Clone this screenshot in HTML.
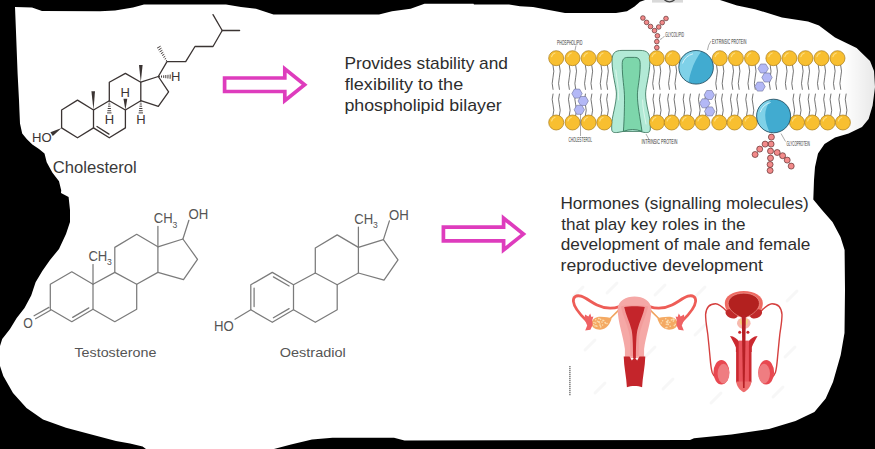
<!DOCTYPE html>
<html><head><meta charset="utf-8">
<style>
html,body{margin:0;padding:0;background:#000;}
body{width:875px;height:449px;overflow:hidden;position:relative;font-family:"Liberation Sans",sans-serif;}
svg{position:absolute;left:0;top:0;display:block;}
text{font-family:"Liberation Sans",sans-serif;}
</style></head><body>
<svg width="875" height="449" viewBox="0 0 875 449">
<rect width="875" height="449" fill="#000"/>
<defs><clipPath id="bc"><path d="M15,7 L32,7.4 L42,11 L100,11.3 L115,10.5 L133,7.5 L144,4.5 L226,4.5 L241,7 L256,8.8 L273.5,14.6 L379,14.6 L392,11.3 L410.6,8.8 L424.5,3.8 L473.5,3.8 L474,4.5 L509,4.5 L520,6.3 L533,7 L565,13 L616,13 L627,11.3 L634.6,6.4 L640,1.8 L645,0 L720,0 L737,5.5 L755,9.2 L782,17.4 L808,21.4 L819,25.4 L835,37.4 L856.6,48 L870,61 L874,71 L875,87 L872.6,105.5 L868.6,119 L862,127 L848.6,133.5 L835,137.5 L824.5,144 L818,153.6 L815,167 L814,180 L813.3,199.4 L822,210 L832.5,222 L840.5,237 L844.6,250 L845,290 L844.5,333 L840.7,355 L833,382 L825.7,398.6 L814.4,412 L795.5,421 L769,429 L731.5,434.4 L694,438.2 L690,440 L404.5,440.4 L394,437.7 L332.5,437.7 L312,439.4 L291,444.5 L274,449 L146,449 L142.6,446.5 L130,443.5 L116,441 L89.5,434 L66,427.7 L43,419.4 L26.5,408 L13,393 L3.3,376 L0,366 L0,346 L2.2,339 L10,329 L16.7,318 L24.5,308 L31.2,295.6 L35.6,282.3 L42.3,271 L50,260 L59,249 L66,234 L70,222 L70,210 L68.6,197 L61,193 L61.2,190.2 L59,181.3 L52.3,172.4 L46.7,162.3 L44.5,153.4 L39,149 L32.3,144.5 L26.7,139 L22.2,133.4 L20,123.4 L19.4,110 L19,100 L17.6,73.5 L16,32 Z"/></clipPath><linearGradient id="sh" x1="0" x2="1" y1="0" y2="0"><stop offset="0" stop-color="#000" stop-opacity="0"/><stop offset="1" stop-color="#000" stop-opacity="0.09"/></linearGradient></defs>
<path fill="#fff" d="M15,7 L32,7.4 L42,11 L100,11.3 L115,10.5 L133,7.5 L144,4.5 L226,4.5 L241,7 L256,8.8 L273.5,14.6 L379,14.6 L392,11.3 L410.6,8.8 L424.5,3.8 L473.5,3.8 L474,4.5 L509,4.5 L520,6.3 L533,7 L565,13 L616,13 L627,11.3 L634.6,6.4 L640,1.8 L645,0 L720,0 L737,5.5 L755,9.2 L782,17.4 L808,21.4 L819,25.4 L835,37.4 L856.6,48 L870,61 L874,71 L875,87 L872.6,105.5 L868.6,119 L862,127 L848.6,133.5 L835,137.5 L824.5,144 L818,153.6 L815,167 L814,180 L813.3,199.4 L822,210 L832.5,222 L840.5,237 L844.6,250 L845,290 L844.5,333 L840.7,355 L833,382 L825.7,398.6 L814.4,412 L795.5,421 L769,429 L731.5,434.4 L694,438.2 L690,440 L404.5,440.4 L394,437.7 L332.5,437.7 L312,439.4 L291,444.5 L274,449 L146,449 L142.6,446.5 L130,443.5 L116,441 L89.5,434 L66,427.7 L43,419.4 L26.5,408 L13,393 L3.3,376 L0,366 L0,346 L2.2,339 L10,329 L16.7,318 L24.5,308 L31.2,295.6 L35.6,282.3 L42.3,271 L50,260 L59,249 L66,234 L70,222 L70,210 L68.6,197 L61,193 L61.2,190.2 L59,181.3 L52.3,172.4 L46.7,162.3 L44.5,153.4 L39,149 L32.3,144.5 L26.7,139 L22.2,133.4 L20,123.4 L19.4,110 L19,100 L17.6,73.5 L16,32 Z"/>
<rect x="843" y="20" width="32" height="125" fill="url(#sh)" clip-path="url(#bc)"/>
<rect x="652" y="0" width="31" height="2.6" fill="#d9d9d9"/><path d="M664.5,0 Q669.5,3.6 674.5,0" fill="none" stroke="#444" stroke-width="1.3"/>
<!-- cholesterol -->
<g fill="none" stroke="#3b3433" stroke-width="1.3" stroke-linecap="round" stroke-linejoin="round"><path d="M77.5,100.1 L61.6,110.0 L61.6,127.9 L77.5,137.8 L93.5,127.9 L93.5,110.0 Z"/><path d="M93.5,110.0 L109.3,100.7 L125.4,110.0 L125.4,127.9 L109.3,137.8 L93.5,127.9"/><path d="M109.3,100.7 L109.3,82.2 L125.4,73.4 L140.8,82.2 L140.8,100.7 L125.4,110.0"/><path d="M140.8,82.2 L158.3,76.5 L168.6,91.9 L158.3,106.3 L140.8,100.7"/><path d="M158.3,76.5 L167.0,61.7 L185.7,61.7 L195.0,46.5 L213.0,46.5 L222.2,30.5 L213.0,14.6"/><line x1="222.2" y1="30.5" x2="239.6" y2="30.5"/><line x1="97.0" y1="126.5" x2="109.0" y2="134.1"/></g><g fill="#3b3433" stroke="none"><polygon points="93.5,110.0 95.0,91.2 91.4,91.2"/><polygon points="140.8,82.2 142.6,65.1 139.0,65.1"/><polygon points="125.4,110.0 127.3,98.8 123.5,98.8"/><polygon points="61.6,127.9 50.4,132.3 52.8,136.1"/></g><g fill="none" stroke="#3b3433" stroke-width="0.95"><line x1="108.6" y1="101.8" x2="110.0" y2="101.8"/><line x1="108.3" y1="104.0" x2="110.3" y2="104.0"/><line x1="108.0" y1="106.2" x2="110.6" y2="106.2"/><line x1="107.7" y1="108.5" x2="110.9" y2="108.5"/><line x1="107.4" y1="110.7" x2="111.2" y2="110.7"/><line x1="107.1" y1="112.9" x2="111.5" y2="112.9"/><line x1="140.1" y1="101.8" x2="141.5" y2="101.8"/><line x1="139.8" y1="104.0" x2="141.8" y2="104.0"/><line x1="139.5" y1="106.2" x2="142.1" y2="106.2"/><line x1="139.2" y1="108.5" x2="142.4" y2="108.5"/><line x1="138.9" y1="110.7" x2="142.7" y2="110.7"/><line x1="138.6" y1="112.9" x2="143.0" y2="112.9"/><line x1="159.4" y1="77.2" x2="159.4" y2="75.8"/><line x1="161.5" y1="77.6" x2="161.5" y2="75.5"/><line x1="163.7" y1="77.9" x2="163.7" y2="75.3"/><line x1="165.8" y1="78.2" x2="165.8" y2="75.0"/><line x1="167.9" y1="78.5" x2="168.0" y2="74.8"/><line x1="170.1" y1="78.8" x2="170.2" y2="74.5"/><line x1="167.0" y1="60.4" x2="165.9" y2="61.0"/><line x1="166.1" y1="58.4" x2="164.7" y2="59.2"/><line x1="165.2" y1="56.4" x2="163.4" y2="57.4"/><line x1="164.3" y1="54.3" x2="162.1" y2="55.5"/><line x1="163.3" y1="52.3" x2="160.9" y2="53.7"/><line x1="162.4" y1="50.3" x2="159.6" y2="51.8"/><line x1="161.5" y1="48.2" x2="158.4" y2="50.0"/><line x1="160.6" y1="46.2" x2="157.1" y2="48.1"/></g><g fill="#3b3433" font-size="12.6"><text x="120.4" y="96.6" textLength="9.4" lengthAdjust="spacingAndGlyphs">H</text><text x="104.8" y="124.3" textLength="9.4" lengthAdjust="spacingAndGlyphs">H</text><text x="136.2" y="124.3" textLength="9.4" lengthAdjust="spacingAndGlyphs">H</text><text x="170.9" y="81.2" textLength="9.4" lengthAdjust="spacingAndGlyphs">H</text></g><text x="32" y="142.3" font-size="13.5" fill="#3b3433" textLength="19.6" lengthAdjust="spacingAndGlyphs">HO</text>
<text x="52.8" y="173.3" font-size="15.6" fill="#3a3a3a" textLength="84" lengthAdjust="spacingAndGlyphs">Cholesterol</text>
<!-- testosterone -->
<g fill="none" stroke="#7b7b7b" stroke-width="1.25" stroke-linecap="round" stroke-linejoin="round"><path d="M71.8,271.8 L50.3,284.2 L50.3,309.2 L71.8,321.7 L93.0,309.2 L93.0,284.2 Z"/><path d="M93.0,284.2 L114.8,272.4 L136.7,284.2 L136.7,309.2 L114.8,321.7 L93.0,309.2"/><path d="M114.8,272.4 L114.8,247.4 L136.7,234.3 L157.9,246.8 L157.9,272.4 L136.7,284.2"/><path d="M157.9,246.8 L182.9,239.0 L197.5,259.3 L183.5,279.6 L157.9,272.4"/><line x1="157.9" y1="246.8" x2="157.9" y2="226.4"/><line x1="182.9" y1="239.0" x2="188.9" y2="220.3"/><line x1="93.0" y1="284.2" x2="93.0" y2="264.6"/><line x1="72.7" y1="317.4" x2="88.8" y2="307.9"/><line x1="48.9" y1="307.4" x2="34.1" y2="315.8"/><line x1="50.5" y1="310.3" x2="35.6" y2="318.8"/></g><g fill="#555" font-size="14.4"><text x="153.8" y="222.9" textLength="18.9" lengthAdjust="spacingAndGlyphs">CH</text><text x="172.4" y="227.5" font-size="8.6">3</text><text x="188.5" y="219.3" font-size="14" textLength="19.8" lengthAdjust="spacingAndGlyphs">OH</text><text x="88.4" y="260.7" textLength="18.9" lengthAdjust="spacingAndGlyphs">CH</text><text x="107.0" y="265.3" font-size="8.6">3</text><text x="23.3" y="327.8" font-size="14.4" textLength="9.6" lengthAdjust="spacingAndGlyphs">O</text></g>
<!-- oestradiol -->
<g fill="none" stroke="#7b7b7b" stroke-width="1.25" stroke-linecap="round" stroke-linejoin="round"><path d="M272.3,272.4 L250.8,284.8 L250.8,309.8 L272.3,322.3 L293.5,309.8 L293.5,284.8 Z"/><path d="M293.5,284.8 L315.3,273.0 L337.2,284.8 L337.2,309.8 L315.3,322.3 L293.5,309.8"/><path d="M315.3,273.0 L315.3,248.0 L337.2,234.9 L358.4,247.4 L358.4,273.0 L337.2,284.8"/><path d="M358.4,247.4 L383.4,239.6 L398.0,259.9 L384.0,280.2 L358.4,273.0"/><line x1="358.4" y1="247.4" x2="358.4" y2="227.0"/><line x1="383.4" y1="239.6" x2="389.4" y2="220.9"/><line x1="273.4" y1="276.9" x2="289.1" y2="286.0"/><line x1="254.1" y1="288.1" x2="254.1" y2="306.6"/><line x1="273.4" y1="317.8" x2="289.1" y2="308.6"/><line x1="250.8" y1="309.8" x2="235.0" y2="319.2"/></g><g fill="#555" font-size="14.4"><text x="354.3" y="223.5" textLength="18.9" lengthAdjust="spacingAndGlyphs">CH</text><text x="372.9" y="228.1" font-size="8.6">3</text><text x="389.0" y="219.9" font-size="14" textLength="19.8" lengthAdjust="spacingAndGlyphs">OH</text><text x="213.9" y="330.6" font-size="14" textLength="19.8" lengthAdjust="spacingAndGlyphs">HO</text></g>
<g fill="#555" font-size="12.6"><text x="74.4" y="357" textLength="82" lengthAdjust="spacingAndGlyphs">Testosterone</text><text x="279.8" y="357" textLength="66" lengthAdjust="spacingAndGlyphs">Oestradiol</text></g>
<!-- arrows -->
<path d="M224.6,78.0 L284.8,78.0 L284.8,68.8 L304.6,84.8 L284.8,100.7 L284.8,91.5 L224.6,91.5 Z" fill="#fff" stroke="#de3cbd" stroke-width="3.7" stroke-linejoin="miter" stroke-miterlimit="10"/><path d="M443.4,227.2 L503.6,227.2 L503.6,218.2 L523.4,234.1 L503.6,250.0 L503.6,240.9 L443.4,240.9 Z" fill="#fff" stroke="#de3cbd" stroke-width="3.7" stroke-linejoin="miter" stroke-miterlimit="10"/>
<!-- text -->
<g fill="#2d2d2d" font-size="16.4"><text x="344.4" y="69.3" textLength="163.6" lengthAdjust="spacingAndGlyphs">Provides stability and</text><text x="344.8" y="90.1" textLength="118.4" lengthAdjust="spacingAndGlyphs">flexibility to the</text><text x="344.4" y="110.9" textLength="157.4" lengthAdjust="spacingAndGlyphs">phospholipid bilayer</text></g>
<g fill="#2d2d2d" font-size="16.4"><text x="560.4" y="209" textLength="248.4" lengthAdjust="spacingAndGlyphs">Hormones (signalling molecules)</text><text x="561.2" y="229.6" textLength="184.4" lengthAdjust="spacingAndGlyphs">that play key roles in the</text><text x="560.8" y="250.2" textLength="249.6" lengthAdjust="spacingAndGlyphs">development of male and female</text><text x="560.6" y="270.8" textLength="202.4" lengthAdjust="spacingAndGlyphs">reproductive development</text></g>
<!-- bilayer -->
<g fill="none" stroke="#2b2b2b" stroke-width="0.65" stroke-linecap="round"><path d="M553.0,65.2 q1.7,6.1 0,12.1 q-1.7,6.1 0,12.1"/><path d="M559.4,65.2 q1.7,6.1 0,12.1 q-1.7,6.1 0,12.1"/><path d="M569.3,65.2 q1.7,6.1 0,12.1 q-1.7,6.1 0,12.1"/><path d="M575.7,65.2 q1.7,6.1 0,12.1 q-1.7,6.1 0,12.1"/><path d="M585.4,65.2 q1.7,6.1 0,12.1 q-1.7,6.1 0,12.1"/><path d="M591.8,65.2 q1.7,6.1 0,12.1 q-1.7,6.1 0,12.1"/><path d="M601.1,65.2 q1.7,6.1 0,12.1 q-1.7,6.1 0,12.1"/><path d="M607.5,65.2 q1.7,6.1 0,12.1 q-1.7,6.1 0,12.1"/><path d="M653.5,65.2 q1.7,6.1 0,12.1 q-1.7,6.1 0,12.1"/><path d="M659.9,65.2 q1.7,6.1 0,12.1 q-1.7,6.1 0,12.1"/><path d="M669.4,65.2 q1.7,6.1 0,12.1 q-1.7,6.1 0,12.1"/><path d="M675.8,65.2 q1.7,6.1 0,12.1 q-1.7,6.1 0,12.1"/><path d="M716.6,65.2 q1.7,6.1 0,12.1 q-1.7,6.1 0,12.1"/><path d="M723.0,65.2 q1.7,6.1 0,12.1 q-1.7,6.1 0,12.1"/><path d="M732.7,65.2 q1.7,6.1 0,12.1 q-1.7,6.1 0,12.1"/><path d="M739.1,65.2 q1.7,6.1 0,12.1 q-1.7,6.1 0,12.1"/><path d="M748.8,65.2 q1.7,6.1 0,12.1 q-1.7,6.1 0,12.1"/><path d="M755.2,65.2 q1.7,6.1 0,12.1 q-1.7,6.1 0,12.1"/><path d="M770.2,65.2 q1.7,6.1 0,12.1 q-1.7,6.1 0,12.1"/><path d="M776.6,65.2 q1.7,6.1 0,12.1 q-1.7,6.1 0,12.1"/><path d="M786.2,65.2 q1.7,6.1 0,12.1 q-1.7,6.1 0,12.1"/><path d="M792.6,65.2 q1.7,6.1 0,12.1 q-1.7,6.1 0,12.1"/><path d="M802.3,65.2 q1.7,6.1 0,12.1 q-1.7,6.1 0,12.1"/><path d="M808.7,65.2 q1.7,6.1 0,12.1 q-1.7,6.1 0,12.1"/><path d="M818.3,65.2 q1.7,6.1 0,12.1 q-1.7,6.1 0,12.1"/><path d="M824.7,65.2 q1.7,6.1 0,12.1 q-1.7,6.1 0,12.1"/><path d="M834.3,65.2 q1.7,6.1 0,12.1 q-1.7,6.1 0,12.1"/><path d="M840.7,65.2 q1.7,6.1 0,12.1 q-1.7,6.1 0,12.1"/><path d="M553.0,94.0 q-1.7,5.4 0,10.8 q1.7,5.4 0,10.8"/><path d="M559.4,94.0 q-1.7,5.4 0,10.8 q1.7,5.4 0,10.8"/><path d="M569.3,94.0 q-1.7,5.4 0,10.8 q1.7,5.4 0,10.8"/><path d="M575.7,94.0 q-1.7,5.4 0,10.8 q1.7,5.4 0,10.8"/><path d="M585.4,94.0 q-1.7,5.4 0,10.8 q1.7,5.4 0,10.8"/><path d="M591.8,94.0 q-1.7,5.4 0,10.8 q1.7,5.4 0,10.8"/><path d="M601.1,94.0 q-1.7,5.4 0,10.8 q1.7,5.4 0,10.8"/><path d="M607.5,94.0 q-1.7,5.4 0,10.8 q1.7,5.4 0,10.8"/><path d="M653.8,94.0 q-1.7,5.4 0,10.8 q1.7,5.4 0,10.8"/><path d="M660.2,94.0 q-1.7,5.4 0,10.8 q1.7,5.4 0,10.8"/><path d="M668.5,94.0 q-1.7,5.4 0,10.8 q1.7,5.4 0,10.8"/><path d="M674.9,94.0 q-1.7,5.4 0,10.8 q1.7,5.4 0,10.8"/><path d="M684.0,94.0 q-1.7,5.4 0,10.8 q1.7,5.4 0,10.8"/><path d="M690.4,94.0 q-1.7,5.4 0,10.8 q1.7,5.4 0,10.8"/><path d="M699.3,94.0 q-1.7,5.4 0,10.8 q1.7,5.4 0,10.8"/><path d="M705.7,94.0 q-1.7,5.4 0,10.8 q1.7,5.4 0,10.8"/><path d="M716.0,94.0 q-1.7,5.4 0,10.8 q1.7,5.4 0,10.8"/><path d="M722.4,94.0 q-1.7,5.4 0,10.8 q1.7,5.4 0,10.8"/><path d="M731.3,94.0 q-1.7,5.4 0,10.8 q1.7,5.4 0,10.8"/><path d="M737.7,94.0 q-1.7,5.4 0,10.8 q1.7,5.4 0,10.8"/><path d="M746.6,94.0 q-1.7,5.4 0,10.8 q1.7,5.4 0,10.8"/><path d="M753.0,94.0 q-1.7,5.4 0,10.8 q1.7,5.4 0,10.8"/><path d="M793.8,94.0 q-1.7,5.4 0,10.8 q1.7,5.4 0,10.8"/><path d="M800.2,94.0 q-1.7,5.4 0,10.8 q1.7,5.4 0,10.8"/><path d="M809.0,94.0 q-1.7,5.4 0,10.8 q1.7,5.4 0,10.8"/><path d="M815.4,94.0 q-1.7,5.4 0,10.8 q1.7,5.4 0,10.8"/><path d="M824.5,94.0 q-1.7,5.4 0,10.8 q1.7,5.4 0,10.8"/><path d="M830.9,94.0 q-1.7,5.4 0,10.8 q1.7,5.4 0,10.8"/><path d="M839.7,94.0 q-1.7,5.4 0,10.8 q1.7,5.4 0,10.8"/><path d="M846.1,94.0 q-1.7,5.4 0,10.8 q1.7,5.4 0,10.8"/></g><g fill="#b3b8f6" stroke="#6d7099" stroke-width="0.6" stroke-linejoin="round"><path d="M582.2,93.6 L579.6,98.1 L574.4,98.1 L571.8,93.6 L574.4,89.1 L579.6,89.1 Z"/><path d="M588.4,101.0 L585.8,105.5 L580.6,105.5 L578.0,101.0 L580.6,96.5 L585.8,96.5 Z"/><path d="M584.5,109.8 L581.9,114.3 L576.7,114.3 L574.1,109.8 L576.7,105.3 L581.9,105.3 Z"/><path d="M714.5,95.0 L711.9,99.5 L706.7,99.5 L704.1,95.0 L706.7,90.5 L711.9,90.5 Z"/><path d="M710.0,103.3 L707.4,107.8 L702.2,107.8 L699.6,103.3 L702.2,98.8 L707.4,98.8 Z"/><path d="M714.9,111.4 L712.3,115.9 L707.1,115.9 L704.5,111.4 L707.1,106.9 L712.3,106.9 Z"/><path d="M768.4,68.5 L765.8,73.0 L760.6,73.0 L758.0,68.5 L760.6,64.0 L765.8,64.0 Z"/><path d="M772.2,77.5 L769.6,82.0 L764.4,82.0 L761.8,77.5 L764.4,73.0 L769.6,73.0 Z"/><path d="M765.2,86.6 L762.6,91.1 L757.4,91.1 L754.8,86.6 L757.4,82.1 L762.6,82.1 Z"/></g><path d="M612,61 C612,53 615,50.4 622,50.4 L640,50.4 C647,50.4 650,53 650,61 C649.6,75 645.6,87 645.6,94 C645.6,104 650.3,117 650.3,125 L650.3,129 C650.3,132.6 648,132.8 644,132.4 L640,131.4 L623.4,131.4 L618,132.4 C614,132.8 611.7,132.6 611.7,129 L611.7,125 C611.7,117 616.4,104 616.4,94 C616.4,87 612.2,75 612,61 Z" fill="#b2ead6" stroke="#2f6b52" stroke-width="0.8" stroke-linejoin="round"/><path d="M622.2,64.5 C622.2,59 624,57.4 628,57.4 L634.5,57.4 C638.5,57.4 640.2,59 640.2,64.5 C640.2,78 637.4,88 637.4,95 C637.4,105 640,117 642,131.4 Q632.5,127.6 623.4,131.4 C624.4,117 624.5,105 624.5,98 C624.5,88 622.2,78 622.2,64.5 Z" fill="#7dd6ab" stroke="#2f6b52" stroke-width="0.8" stroke-linejoin="round"/><g fill="none" stroke="#e4f8ef" stroke-width="0.8" stroke-linecap="round"><path d="M615.8,70 C617,80 619,90 618.6,100"/><path d="M642.6,100 C642.6,108 644.6,116 646,124"/></g><g fill="#f8bf30" stroke="#a87a18" stroke-width="0.7"><circle cx="556.2" cy="58.2" r="7.5"/><circle cx="572.5" cy="58.2" r="7.5"/><circle cx="588.6" cy="58.2" r="7.5"/><circle cx="604.3" cy="58.2" r="7.5"/><circle cx="656.7" cy="58.2" r="7.5"/><circle cx="672.6" cy="58.2" r="7.5"/><circle cx="719.8" cy="58.2" r="7.5"/><circle cx="735.9" cy="58.2" r="7.5"/><circle cx="752" cy="58.2" r="7.5"/><circle cx="773.4" cy="58.2" r="7.5"/><circle cx="789.4" cy="58.2" r="7.5"/><circle cx="805.5" cy="58.2" r="7.5"/><circle cx="821.5" cy="58.2" r="7.5"/><circle cx="837.5" cy="58.2" r="7.5"/><circle cx="556.2" cy="122.5" r="7.5"/><circle cx="572.5" cy="122.5" r="7.5"/><circle cx="588.6" cy="122.5" r="7.5"/><circle cx="604.3" cy="122.5" r="7.5"/><circle cx="657" cy="122.5" r="7.5"/><circle cx="671.7" cy="122.5" r="7.5"/><circle cx="687.2" cy="122.5" r="7.5"/><circle cx="702.5" cy="122.5" r="7.5"/><circle cx="719.2" cy="122.5" r="7.5"/><circle cx="734.5" cy="122.5" r="7.5"/><circle cx="749.8" cy="122.5" r="7.5"/><circle cx="797" cy="122.5" r="7.5"/><circle cx="812.2" cy="122.5" r="7.5"/><circle cx="827.7" cy="122.5" r="7.5"/><circle cx="842.9" cy="122.5" r="7.5"/></g><g fill="none" stroke="#fcdc7c" stroke-width="1.2" stroke-linecap="round"><path d="M551.6,56.7 a5,5 0 0 1 3.4,-3.7"/><path d="M567.9,56.7 a5,5 0 0 1 3.4,-3.7"/><path d="M584.0,56.7 a5,5 0 0 1 3.4,-3.7"/><path d="M599.7,56.7 a5,5 0 0 1 3.4,-3.7"/><path d="M652.1,56.7 a5,5 0 0 1 3.4,-3.7"/><path d="M668.0,56.7 a5,5 0 0 1 3.4,-3.7"/><path d="M715.2,56.7 a5,5 0 0 1 3.4,-3.7"/><path d="M731.3,56.7 a5,5 0 0 1 3.4,-3.7"/><path d="M747.4,56.7 a5,5 0 0 1 3.4,-3.7"/><path d="M768.8,56.7 a5,5 0 0 1 3.4,-3.7"/><path d="M784.8,56.7 a5,5 0 0 1 3.4,-3.7"/><path d="M800.9,56.7 a5,5 0 0 1 3.4,-3.7"/><path d="M816.9,56.7 a5,5 0 0 1 3.4,-3.7"/><path d="M832.9,56.7 a5,5 0 0 1 3.4,-3.7"/><path d="M551.6,121.0 a5,5 0 0 1 3.4,-3.7"/><path d="M567.9,121.0 a5,5 0 0 1 3.4,-3.7"/><path d="M584.0,121.0 a5,5 0 0 1 3.4,-3.7"/><path d="M599.7,121.0 a5,5 0 0 1 3.4,-3.7"/><path d="M652.4,121.0 a5,5 0 0 1 3.4,-3.7"/><path d="M667.1,121.0 a5,5 0 0 1 3.4,-3.7"/><path d="M682.6,121.0 a5,5 0 0 1 3.4,-3.7"/><path d="M697.9,121.0 a5,5 0 0 1 3.4,-3.7"/><path d="M714.6,121.0 a5,5 0 0 1 3.4,-3.7"/><path d="M729.9,121.0 a5,5 0 0 1 3.4,-3.7"/><path d="M745.2,121.0 a5,5 0 0 1 3.4,-3.7"/><path d="M792.4,121.0 a5,5 0 0 1 3.4,-3.7"/><path d="M807.6,121.0 a5,5 0 0 1 3.4,-3.7"/><path d="M823.1,121.0 a5,5 0 0 1 3.4,-3.7"/><path d="M838.3,121.0 a5,5 0 0 1 3.4,-3.7"/></g><clipPath id="b1"><ellipse cx="696.1" cy="67.3" rx="17.3" ry="16.8"/></clipPath><ellipse cx="696.1" cy="67.3" rx="17.3" ry="16.8" fill="#41abd0"/><path d="M704,48 C699,54 694,62 691,72 C689.5,77 688.6,81 688.4,86 L676,86 L676,48 Z" fill="#7fd1e8" clip-path="url(#b1)"/><ellipse cx="696.1" cy="67.3" rx="17.3" ry="16.8" fill="none" stroke="#1d4456" stroke-width="0.8"/><path d="M682.6,63.1 A14.7,14.3 0 0 1 692.6,53.9" fill="none" stroke="#d8f3fb" stroke-width="0.9" stroke-linecap="round"/><clipPath id="b2"><ellipse cx="773.6" cy="116" rx="17" ry="16.8"/></clipPath><ellipse cx="773.6" cy="116" rx="17" ry="16.8" fill="#41abd0"/><path d="M773,97 C768,103 765.2,109 765.2,115 C765.2,121 767,127 770.5,134 L754,134 L754,97 Z" fill="#7fd1e8" clip-path="url(#b2)"/><ellipse cx="773.6" cy="116" rx="17" ry="16.8" fill="none" stroke="#1d4456" stroke-width="0.8"/><path d="M760.3,111.8 A14.4,14.3 0 0 1 770.2,102.6" fill="none" stroke="#d8f3fb" stroke-width="0.9" stroke-linecap="round"/><g fill="#f28a8a" stroke="#552424" stroke-width="0.65"><circle cx="656.8" cy="47.6" r="2.35"/><circle cx="656.8" cy="41.6" r="2.35"/><circle cx="657.4" cy="35.8" r="2.35"/><circle cx="654.5" cy="30.6" r="2.35"/><circle cx="650.5" cy="26.5" r="2.35"/><circle cx="646.6" cy="22.4" r="2.35"/><circle cx="642.9" cy="18" r="2.35"/><circle cx="658.7" cy="27" r="2.35"/><circle cx="662.2" cy="22.6" r="2.35"/><circle cx="666" cy="18.5" r="2.35"/><circle cx="771.4" cy="137.1" r="3"/><circle cx="771.1" cy="144.1" r="3"/><circle cx="770.5" cy="151.1" r="3"/><circle cx="770.5" cy="158.1" r="3"/><circle cx="770.1" cy="164.5" r="3"/><circle cx="770.1" cy="170.5" r="3"/><circle cx="765.1" cy="144.1" r="3"/><circle cx="759.7" cy="149.1" r="3"/><circle cx="755.1" cy="154.5" r="3"/><circle cx="777.2" cy="152.5" r="3"/><circle cx="782.6" cy="155.7" r="3"/><circle cx="787.2" cy="160.1" r="3"/><circle cx="791.2" cy="166.1" r="3"/></g><g fill="#333" font-size="8" stroke="none"><text x="557" y="45" textLength="25.5" lengthAdjust="spacingAndGlyphs">PHOSPHOLIPID</text><text x="665.2" y="36.8" textLength="18.8" lengthAdjust="spacingAndGlyphs">GLYCOLIPID</text><text x="712" y="43.6" textLength="34.5" lengthAdjust="spacingAndGlyphs">EXTRINSIC PROTEIN</text><text x="568.5" y="142.4" textLength="23.5" lengthAdjust="spacingAndGlyphs">CHOLESTEROL</text><text x="641.5" y="144" textLength="36" lengthAdjust="spacingAndGlyphs">INTRINSIC PROTEIN</text><text x="786.5" y="146" textLength="23.5" lengthAdjust="spacingAndGlyphs">GLYCOPROTEIN</text></g><g fill="none" stroke="#555" stroke-width="0.5"><path d="M576,45.5 L575,50.5"/><path d="M664.5,36 Q662,39 660,39.5"/><path d="M711,41 Q708,45 707.5,50"/><path d="M580.5,136 L580.5,114"/><path d="M649,139.5 L646,134"/><path d="M785.5,141.5 L781,133.5"/></g>
<g stroke="#f7f7f7" stroke-width="3" stroke-linecap="round"><line x1="573" y1="297" x2="583" y2="287"/><line x1="607" y1="293" x2="617" y2="283"/><line x1="655" y1="295" x2="665" y2="285"/><line x1="695" y1="297" x2="705" y2="287"/><line x1="787" y1="301" x2="797" y2="291"/><line x1="585" y1="350" x2="595" y2="340"/><line x1="645" y1="357" x2="655" y2="347"/><line x1="695" y1="335" x2="705" y2="325"/><line x1="785" y1="357" x2="795" y2="347"/><line x1="595" y1="393" x2="605" y2="383"/><line x1="663" y1="389" x2="673" y2="379"/><line x1="711" y1="403" x2="721" y2="393"/><line x1="773" y1="397" x2="783" y2="387"/></g>
<!-- reproductive -->
<g fill="none" stroke="#ee5d57" stroke-width="2.8" stroke-linecap="round" stroke-linejoin="round"><path d="M619.5,306.6 C612,309.2 604,308.4 597,305 C591,302 586,297.8 581,296.2 C576,294.8 573,297 573.4,301.5 C574,307 579,313.5 586.4,320.5"/><path d="M 649.5 306.6 C 657.0 309.2 665.0 308.4 672.0 305.0 C 678.0 302.0 683.0 297.8 688.0 296.2 C 693.0 294.8 696.0 297.0 695.6 301.5 C 695.0 307.0 690.0 313.5 682.6 320.5"/></g><g fill="none" stroke="#f0a35e" stroke-width="1.6" stroke-linecap="round"><path d="M618.2,310.6 L609.5,319.2"/><path d="M 650.8 310.6 L 659.5 319.2"/></g><g fill="#f4a962"><path d="M591.6,323.6 C591.6,319.4 595.6,316.8 600.6,316.8 C605.4,316.8 609.6,317.6 611.6,318.6 C610.4,323 607,329.6 600,329.8 C595.2,329.8 591.6,327.6 591.6,323.6 Z"/><path d="M 677.4 323.6 C 677.4 319.4 673.4 316.8 668.4 316.8 C 663.6 316.8 659.4 317.6 657.4 318.6 C 658.6 323.0 662.0 329.6 669.0 329.8 C 673.8 329.8 677.4 327.6 677.4 323.6 Z"/></g><g fill="#fbdcae"><circle cx="600.7" cy="326.9" r="0.8"/><circle cx="596.4" cy="326.0" r="0.8"/><circle cx="599.0" cy="322.3" r="0.8"/><circle cx="607.0" cy="323.6" r="0.8"/><circle cx="600.1" cy="325.6" r="0.8"/><circle cx="605.4" cy="323.1" r="0.8"/><circle cx="602.9" cy="320.2" r="0.8"/><circle cx="598.5" cy="321.7" r="0.8"/><circle cx="595.7" cy="319.7" r="0.8"/><circle cx="594.0" cy="322.6" r="0.8"/><circle cx="599.4" cy="322.1" r="0.8"/><circle cx="600.6" cy="319.4" r="0.8"/><circle cx="599.9" cy="324.0" r="0.8"/><circle cx="603.7" cy="320.6" r="0.8"/><circle cx="598.9" cy="318.6" r="0.8"/><circle cx="598.7" cy="318.5" r="0.8"/><circle cx="595.1" cy="325.9" r="0.8"/><circle cx="593.6" cy="324.8" r="0.8"/><circle cx="602.0" cy="322.1" r="0.8"/><circle cx="602.6" cy="325.0" r="0.8"/><circle cx="605.1" cy="322.5" r="0.8"/><circle cx="597.5" cy="321.2" r="0.8"/><circle cx="595.7" cy="323.1" r="0.8"/><circle cx="596.9" cy="326.3" r="0.8"/><circle cx="662.6" cy="320.8" r="0.8"/><circle cx="665.7" cy="318.8" r="0.8"/><circle cx="673.3" cy="319.3" r="0.8"/><circle cx="667.3" cy="321.4" r="0.8"/><circle cx="673.4" cy="319.4" r="0.8"/><circle cx="673.3" cy="321.1" r="0.8"/><circle cx="667.9" cy="321.0" r="0.8"/><circle cx="671.4" cy="319.9" r="0.8"/><circle cx="668.3" cy="324.4" r="0.8"/><circle cx="673.2" cy="319.2" r="0.8"/><circle cx="674.3" cy="325.6" r="0.8"/><circle cx="666.3" cy="324.2" r="0.8"/><circle cx="666.9" cy="327.4" r="0.8"/><circle cx="669.8" cy="322.4" r="0.8"/><circle cx="667.5" cy="322.5" r="0.8"/><circle cx="667.9" cy="320.4" r="0.8"/><circle cx="674.1" cy="319.8" r="0.8"/><circle cx="661.3" cy="323.0" r="0.8"/><circle cx="667.9" cy="324.5" r="0.8"/><circle cx="667.6" cy="322.7" r="0.8"/><circle cx="670.2" cy="326.2" r="0.8"/><circle cx="666.5" cy="321.9" r="0.8"/><circle cx="675.3" cy="324.4" r="0.8"/><circle cx="665.9" cy="327.7" r="0.8"/></g><g fill="#ef6264"><path d="M585,314.6 L588.4,316.6 L590.2,313.4 L591.4,317 L593.4,316.4 L592.2,320.4 L592.6,325 L590.4,329.8 L585.2,330.6 L587.2,325.6 L584.6,319.6 Z"/><path d="M 684.0 314.6 L 680.6 316.6 L 678.8 313.4 L 677.6 317.0 L 675.6 316.4 L 676.8 320.4 L 676.4 325.0 L 678.6 329.8 L 683.8 330.6 L 681.8 325.6 L 684.4 319.6 Z"/></g><path d="M634.5,296.5 C642.8,296.5 651.3,301 651.3,309 C651.3,322 645.7,336 644.1,349 L644.1,358 L624.9,358 L624.9,349 C623.3,336 617.7,322 617.7,309 C617.7,301 626.2,296.5 634.5,296.5 Z" fill="#f5a8a6"/><path d="M620.9,306.4 C627.5,305 641.5,305 648.1,306.4 C646.3,316 640.7,326 639.1,337 L638.7,356 L630.3,356 L629.9,337 C628.3,326 622.7,316 620.9,306.4 Z" fill="#f29c9b"/><path d="M624.2,306.9 C629.5,305.9 639.5,305.9 644.8,306.9 C643.5,314 639.3,322 637.4,330 C636.4,335 636.0,342 635.9,358 L633.1,358 C633.0,342 632.6,335 631.6,330 C629.7,322 625.5,314 624.2,306.9 Z" fill="#c4252b"/><path d="M623.7,356.4 L629.5,356.4 L631.9,360.4 L634.5,357 L637.1,360.4 L639.5,356.4 L645.3,356.4 C645.1,367 642.5,377 642.1,387.2 C638.0,385.6 631.0,385.6 626.9,387.2 C626.5,377 623.9,367 623.7,356.4 Z" fill="#c4252b"/><line x1="569.9" y1="366" x2="569.9" y2="396" stroke="#666" stroke-width="1.3" stroke-dasharray="1.2,0.8"/><g fill="none" stroke="#d5403f" stroke-width="1.4" stroke-linecap="round"><path d="M726.7,311.2 C722,306.5 719,303.8 715.6,303.8 C711,303.8 706.3,306 705.6,314.5 C705.6,322 707,328 707.8,334.5 C708.6,342 709.4,350 710,356.8 C710.6,364 711,369 712.2,372.4 C713,374.5 714.2,376 715.6,376.9"/><path d="M 760.9 311.2 C 765.6 306.5 768.6 303.8 772.0 303.8 C 776.6 303.8 781.3 306.0 782.0 314.5 C 782.0 322.0 780.6 328.0 779.8 334.5 C 779.0 342.0 778.2 350.0 777.6 356.8 C 777.0 364.0 776.6 369.0 775.4 372.4 C 774.6 374.5 773.4 376.0 772.0 376.9"/></g><g fill="#e84850"><ellipse cx="721.4" cy="372.3" rx="7.9" ry="12.2"/><ellipse cx="766.2" cy="372.3" rx="7.9" ry="12.2"/></g><g fill="#ef7d81"><ellipse cx="723.5" cy="373.6" rx="5.9" ry="9.8"/><ellipse cx="764.1" cy="373.6" rx="5.9" ry="9.8"/></g><path d="M724.8,303 C724.8,296 733,291 743.8,291 C754.6,291 762.8,296 762.8,303 C762.8,309 759.4,313 756.4,316.5 L731.2,316.5 C728.2,313 724.8,309 724.8,303 Z" fill="#ee6a62"/><g fill="#c02a2b"><ellipse cx="731.6" cy="313.9" rx="6.4" ry="4.3" transform="rotate(24 731.6 313.9)"/><ellipse cx="756.0" cy="313.9" rx="6.4" ry="4.3" transform="rotate(-24 756.0 313.9)"/></g><ellipse cx="743.8" cy="323.2" rx="6.8" ry="5.6" fill="#f7b9ae"/><g fill="#f4d47c"><ellipse cx="740.9" cy="322" rx="1" ry="3.2" transform="rotate(-10 740.9 322)"/><ellipse cx="746.6999999999999" cy="322" rx="1" ry="3.2" transform="rotate(10 746.6999999999999 322)"/></g><path d="M728.2,303.6 C728.2,297.6 734.6,293.2 743.8,293.2 C753,293.2 759.4,297.6 759.4,303.6 C759.4,309.6 752.4,314.6 746,317.6 L741.6,317.6 C735.2,314.6 728.2,309.6 728.2,303.6 Z" fill="#b3211f" stroke="#f6b3a9" stroke-width="0.5"/><g fill="#c9252b"><circle cx="739.6999999999999" cy="332.2" r="1.5"/><circle cx="747.9" cy="332.2" r="1.5"/></g><g fill="#cb2930"><path d="M730,335.9 C734,336.2 737.4,338.6 739.4,342 L739.4,352 L735.9,352 L735.9,347.5 C734.5,343.5 732,339.5 730,335.9 Z"/><path d="M 757.6 335.9 C 753.6 336.2 750.2 338.6 748.2 342.0 L 748.2 352.0 L 751.7 352.0 L 751.7 347.5 C 753.1 343.5 755.6 339.5 757.6 335.9 Z"/></g><rect x="736.1" y="345" width="15.4" height="37.4" fill="#cb2930"/><rect x="738.7" y="340.6" width="10.2" height="41.8" fill="#e9535c"/><path d="M736.3,381.4 L751.3,381.4 C751.3,386 748.0,390 743.8,392.2 C739.6,390 736.3,386 736.3,381.4 Z" fill="#ee6c6d"/><path d="M741.8,315 L745.8,315 L745.4,345 L744.6,388 L743.0,388 L742.2,345 Z" fill="#b62025"/>
</svg>
</body></html>
